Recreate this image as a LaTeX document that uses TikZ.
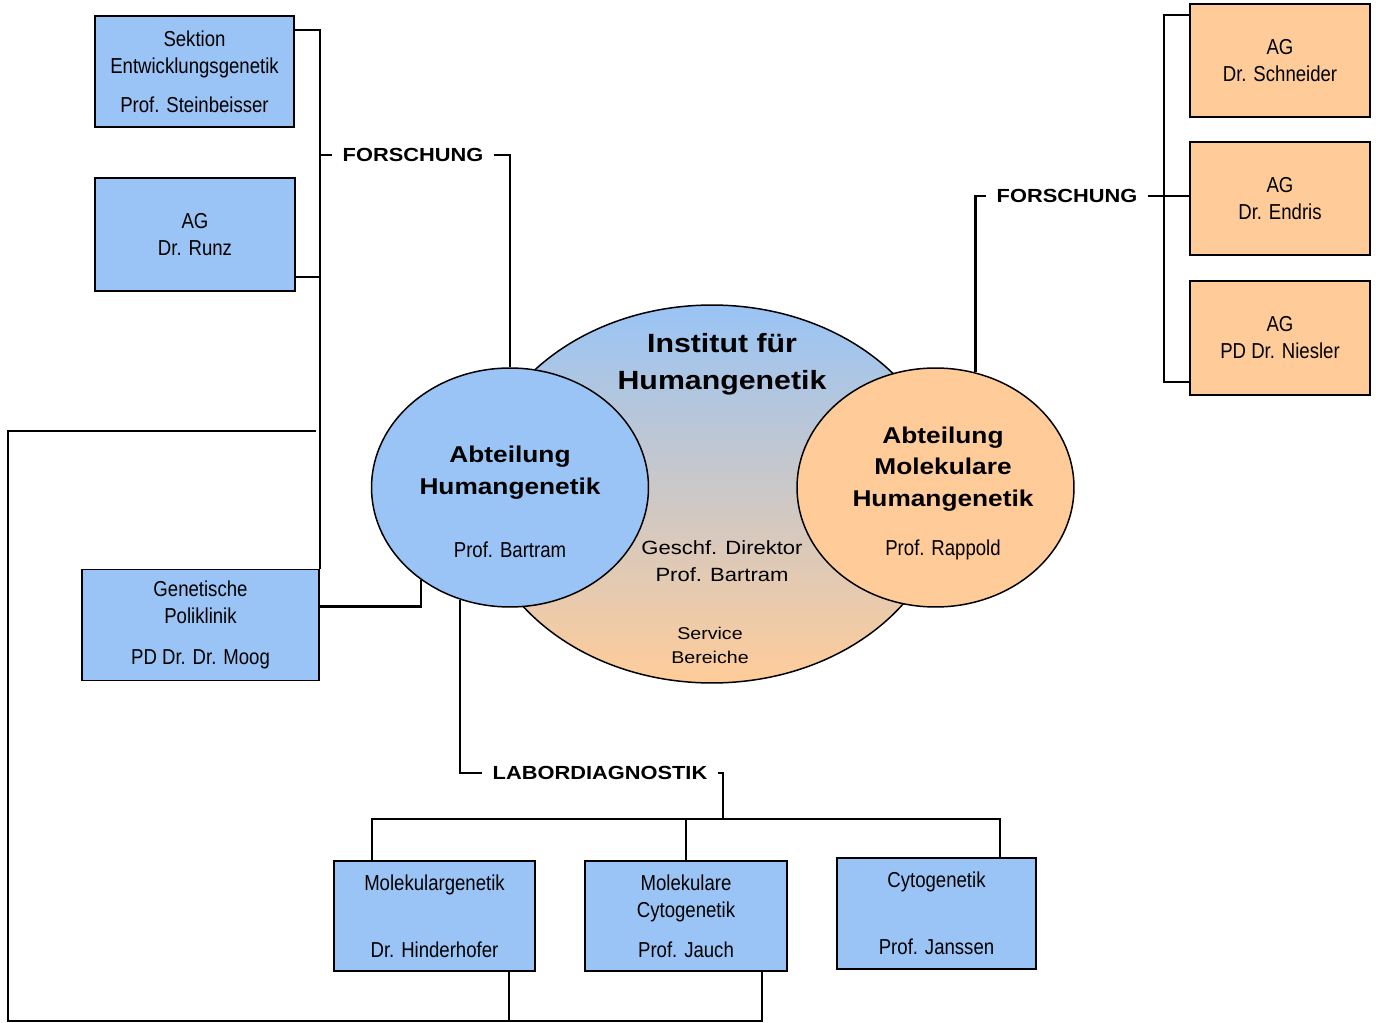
\documentclass[tikz,border=0pt]{standalone}
\usepackage{fontspec}
\setmainfont{Liberation Sans}
\newfontfamily\widefont{Liberation Sans}[FakeStretch=1.15]
\newfontfamily\narrowfont{Liberation Sans}[FakeStretch=0.86]
\usetikzlibrary{shapes.geometric}
\definecolor{boxblue}{RGB}{153,196,245}
\definecolor{boxorange}{RGB}{255,204,153}
\definecolor{ovalmid}{RGB}{212,197,210}
\tikzset{
  unitbox/.style={draw=black, line width=1.1pt, fill=boxblue, align=center, inner sep=0pt,
    font=\narrowfont\fontsize{12.3}{15.3}\selectfont},
  agbox/.style={unitbox, fill=boxorange},
  oval/.style={ellipse, draw=black, line width=0.85pt, inner sep=0pt},
  conn/.style={line width=1.5pt},
  headtxt/.style={font=\widefont\bfseries\fontsize{10.8}{13}\selectfont, inner sep=0.2cm},
  abttxt/.style={font=\widefont\bfseries\fontsize{13}{18.1}\selectfont, align=center},
  proftxt/.style={font=\narrowfont\fontsize{12.3}{15.3}\selectfont},
}
\begin{document}
\begin{tikzpicture}[x=0.02cm, y=-0.02cm]
\useasboundingbox (0,0) rectangle (1381,1023);
% ovals in the middle
\node[oval, top color=boxblue, middle color=ovalmid, bottom color=boxorange, minimum width=9.4cm, minimum height=7.56cm] (inst) at (712,494) {};
\node[oval, fill=boxblue, minimum width=5.54cm, minimum height=4.78cm] (abtH) at (510,487.5) {};
\node[oval, fill=boxorange, minimum width=5.54cm, minimum height=4.78cm] (abtM) at (935.5,487.5) {};
\node[font=\widefont\bfseries\fontsize{15}{21}\selectfont, align=center] (instT) at (722,364) {Institut für\\Humangenetik};
\node[font=\widefont\fontsize{10.9}{15.3}\selectfont, align=center] (direktT) at (722,561) {Geschf. Direktor\\Prof. Bartram};
\node[font=\widefont\fontsize{9.7}{13.6}\selectfont, align=center] (serviceT) at (710,645) {Service\\Bereiche};
\node[abttxt] (abtHT) at (510,473) {Abteilung\\Humangenetik};
\node[proftxt] (abtHP) at (510,550) {Prof. Bartram};
\node[abttxt] (abtMT) at (943,469) {Abteilung\\Molekulare\\Humangenetik};
\node[proftxt] (abtMP) at (943,550) {Prof. Rappold};
% boxes
\node[unitbox, minimum width=3.98cm, minimum height=2.22cm] (sektion) at (194.5,71.5) {Sektion\\Entwicklungsgenetik\\[0.24cm]Prof. Steinbeisser};
\node[unitbox, minimum width=4cm, minimum height=2.26cm] (runz) at (195,234.5) {AG\\Dr. Runz};
\node[unitbox, minimum width=4.74cm, minimum height=2.22cm] (polik) at (200.5,625) {Genetische\\Poliklinik\\[0.28cm]PD Dr. Dr. Moog};
\node[agbox, minimum width=3.6cm, minimum height=2.26cm] (schneider) at (1280,60.5) {AG\\Dr. Schneider};
\node[agbox, minimum width=3.6cm, minimum height=2.26cm] (endris) at (1280,198.5) {AG\\Dr. Endris};
\node[agbox, minimum width=3.6cm, minimum height=2.28cm] (niesler) at (1280,338) {AG\\PD Dr. Niesler};
\node[unitbox, minimum width=4.02cm, minimum height=2.2cm] (molgen) at (434.5,916) {Molekulargenetik\\[0.8cm]Dr. Hinderhofer};
\node[unitbox, minimum width=4.04cm, minimum height=2.2cm] (molcyt) at (686,916) {Molekulare\\Cytogenetik\\[0.26cm]Prof. Jauch};
\node[unitbox, minimum width=3.98cm, minimum height=2.22cm] (cyto) at (936.5,913.5) {Cytogenetik\\[0.8cm]Prof. Janssen};
% headings
\node[headtxt] (frL) at (413,155) {FORSCHUNG};
\node[headtxt] (frR) at (1067,196) {FORSCHUNG};
\node[headtxt] (labor) at (600,773) {LABORDIAGNOSTIK};
% left side
\coordinate (sekR) at ([yshift=-0.3cm]sektion.north east);
\coordinate (runzR) at ([yshift=0.3cm]runz.south east);
\coordinate (polikR) at ([yshift=0.37cm]polik.east);
\draw[conn] (sekR) -| (polik.north east);
\draw[conn] (runzR) -- (runzR -| polik.north east);
\draw[conn] (frL.west) -- (frL.west -| polik.north east);
\draw[conn] (frL.east) -| (abtH.north);
\draw[conn] (polikR) -| (abtH.226);
% laboratories
\coordinate (labJ) at (723,820);
\draw[conn] (abtH.246) |- (labor.west);
\draw[conn] (labor.east) -| (labJ);
\draw[conn] ([xshift=-1.25cm]molgen.north) -- ++(0,-41) -| ([xshift=1.27cm]cyto.north);
\draw[conn] (molcyt.north) -- (molcyt.north |- labJ);
\coordinate (loopT) at (316,431);
\draw[conn] (loopT) -- (8,431) -- (8,1021) -| ([xshift=1.52cm]molcyt.south);
\draw[conn] ([xshift=1.49cm]molgen.south) -- ++(0,50);
% right side
\coordinate (brT) at ([yshift=-0.24cm]schneider.north west);
\coordinate (brB) at ([yshift=0.28cm]niesler.south west);
\draw[conn] (abtM.71) |- (frR.west);
\draw[conn] (frR.east) -- (frR.east -| endris.west);
\draw[conn] (brT) -- ++(-25,0) |- (brB);
\end{tikzpicture}
\end{document}
